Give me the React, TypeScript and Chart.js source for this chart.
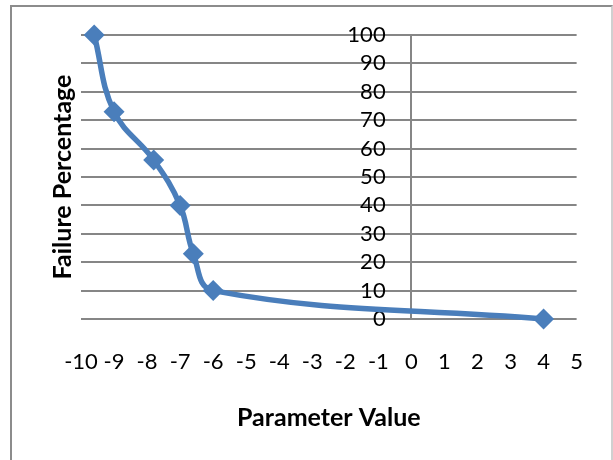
import React, { useEffect, useRef } from "react";
import { Chart, registerables } from "chart.js";

Chart.register(...registerables);

const paramValues = [-9.6, -9, -7.8, -7, -6.6, -6, 4];
const failurePct = [100, 73, 56, 40, 23, 10, 0];
const xTitle = "Parameter Value";
const yTitle = "Failure Percentage";

const FONT = "Lato, 'Open Sans', sans-serif";
const GRID = "#868686";
const BLUE = "#4a7ebb";

export default function App() {
  const ref = useRef<HTMLCanvasElement>(null);
  useEffect(() => {
    const ctx = ref.current!;
    const chart = new Chart(ctx, {
      type: "scatter",
      data: {
        datasets: [
          {
            data: paramValues.map((x, i) => ({ x, y: failurePct[i] })),
            showLine: true,
            borderColor: BLUE,
            backgroundColor: BLUE,
            borderWidth: 5.5,
            tension: 0.4,
            pointStyle: "rectRot",
            pointRadius: 10.5,
            pointHoverRadius: 10.5,
            pointBorderWidth: 0,
            clip: false,
          },
        ],
      },
      options: {
        responsive: false,
        animation: false,
        layout: { padding: { left: 0, right: 36, top: 35, bottom: 0 } },
        plugins: { legend: { display: false }, tooltip: { enabled: false } },
        scales: {
          x: {
            type: "linear",
            min: -10,
            max: 5,
            position: "bottom",
            afterFit: (s: any) => {
              s.height = 141;
            },
            grid: {
              display: true,
              drawTicks: false,
              lineWidth: 2,
              color: (c: any) => (c.tick && c.tick.value === 0 ? GRID : "rgba(0,0,0,0)"),
            },
            border: { display: false },
            ticks: {
              stepSize: 1,
              padding: 30,
              color: "#000",
              font: { family: FONT, size: 22 },
              maxRotation: 0,
              autoSkip: false,
            },
            title: {
              display: true,
              text: xTitle,
              color: "#000",
              font: { family: FONT, size: 25, weight: "bold" },
              padding: { top: 0, bottom: 27 },
            },
          },
          y: {
            type: "linear",
            min: 0,
            max: 100,
            position: { x: -0.78 },
            grid: { color: GRID, lineWidth: 2, drawTicks: false },
            border: { display: false },
            ticks: {
              stepSize: 10,
              autoSkip: false,
              padding: 0,
              color: "#000",
              font: { family: FONT, size: 22 },
            },
          },
          yTitle: {
            type: "linear",
            position: "left",
            min: 0,
            max: 100,
            afterFit: (s: any) => {
              s.width = 81;
            },
            grid: { display: false, drawTicks: false },
            border: { display: false },
            ticks: { display: false },
            title: {
              display: true,
              text: yTitle,
              color: "#000",
              font: { family: FONT, size: 25, weight: "bold" },
              padding: { top: 48, bottom: 0 },
            },
          },
        },
      },
    });
    return () => chart.destroy();
  }, []);
  return (
    <div style={{ position: "fixed", left: 0, top: 0, width: 613, height: 460, background: "#fff", overflow: "hidden" }}>
      <div
        style={{
          position: "absolute",
          left: 10,
          top: 5,
          width: 599,
          height: 470,
          border: "2px solid #8c8c8c",
          borderRightColor: "#d0d0d0",
        }}
      />
      <canvas ref={ref} width={613} height={460} style={{ position: "absolute", left: 0, top: 0 }} />
    </div>
  );
}
